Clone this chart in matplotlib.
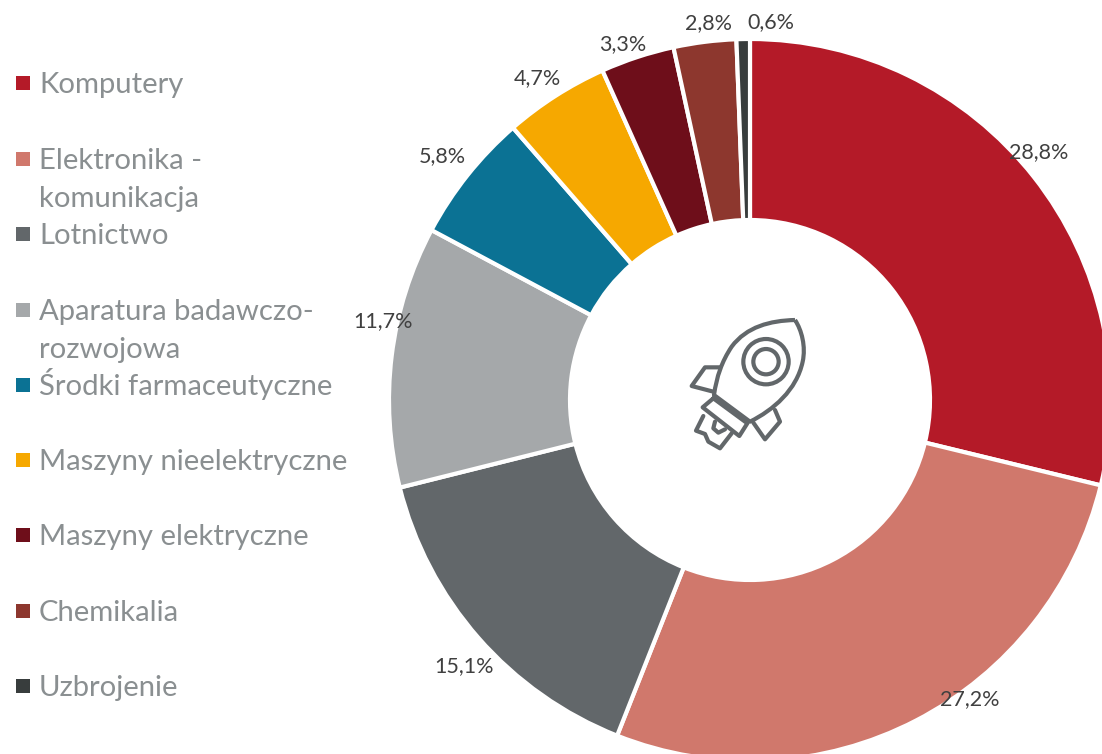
import matplotlib
matplotlib.use('Agg')
import matplotlib.pyplot as plt
from matplotlib.patches import Rectangle, Circle, PathPatch
from matplotlib.path import Path

nazwy = ["Komputery", "Elektronika -\nkomunikacja", "Lotnictwo", "Aparatura badawczo-\nrozwojowa",
         "Środki farmaceutyczne", "Maszyny nieelektryczne", "Maszyny elektryczne", "Chemikalia", "Uzbrojenie"]
wartosci = [28.8, 27.2, 15.1, 11.7, 5.8, 4.7, 3.3, 2.8, 0.6]
kolory = ["#B41A28", "#D0786C", "#62676A", "#A5A8AA", "#0B7294", "#F6A800", "#6E0E1A", "#8D372E", "#383D3D"]

# polozenie etykiet i legendy w pikselach obrazka
pozycje_etykiet = [(1039, 152), (970, 699), (464, 666), (383, 321), (442, 156), (537, 78), (623, 44), (708, 23), (771, 22)]
pozycje_legendy = [83, 159, 234, 310, 385, 460, 535, 611, 686]

W, H = 1102, 754
fig = plt.figure(figsize=(W / 100, H / 100), dpi=100)
ax = fig.add_axes([0, 0, 1, 1])


def py(y):
    return H - y


ax.pie(wartosci, colors=kolory, startangle=90, counterclock=False, radius=361, center=(750, py(400)),
       wedgeprops=dict(width=181, edgecolor='white', linewidth=3))
ax.set_xlim(0, W)
ax.set_ylim(0, H)
ax.axis('off')

for w, (x, y) in zip(wartosci, pozycje_etykiet):
    ax.text(x, py(y), f"{w:.1f}%".replace('.', ','), ha='center', va='center', fontsize=15.5,
            family='Lato', color='#404040')

for nazwa, kolor, y in zip(nazwy, kolory, pozycje_legendy):
    ax.add_patch(Rectangle((15.5, py(y) - 6.5), 14, 14, color=kolor, lw=0))
    # kazda linia osobno, bo baseline przy tekscie wieloliniowym liczy sie od ostatniej
    for i, linia in enumerate(nazwa.split('\n')):
        ax.text(39, py(y) - 10 - i * 38, linia, ha='left', va='baseline', fontsize=21.1, family='Lato',
                color='#8A8F91')


# ikona rakiety, wspolrzedne w pikselach obrazka
def rz(x, y):
    return (660 + x / 3, py(290 + y / 3))


ikona = '#62676A'
lw = 3
C = Path.CURVE4
M = Path.MOVETO
L = Path.LINETO
kadlub = [(405, 90), (330, 92), (260, 110), (215, 170), (185, 215), (170, 260), (162, 315),
          (270, 395), (340, 360), (410, 300), (428, 215), (438, 170), (425, 120), (405, 90)]
kody = [M, C, C, C, C, C, C, L, C, C, C, C, C, C]
ax.add_patch(PathPatch(Path([rz(*p) for p in kadlub], kody), fc='white', ec=ikona, lw=lw, joinstyle='round'))

lamane = [
    [(180, 232), (135, 232), (95, 288), (160, 305)],
    [(345, 360), (360, 395), (315, 448), (280, 398)],
    [(160, 325), (128, 352), (238, 438), (262, 400), (160, 325)],
    [(130, 378), (108, 422), (135, 432), (145, 455), (180, 475), (215, 430)],
    [(165, 395), (160, 415), (175, 428), (195, 418)],
]
for punkty in lamane:
    ax.plot(*zip(*[rz(*p) for p in punkty]), color=ikona, lw=lw, solid_joinstyle='round', solid_capstyle='round')

for r in (68, 38):
    ax.add_patch(Circle(rz(318, 215), r / 3, fc='none', ec=ikona, lw=lw))

fig.savefig('out.png', dpi=100)
